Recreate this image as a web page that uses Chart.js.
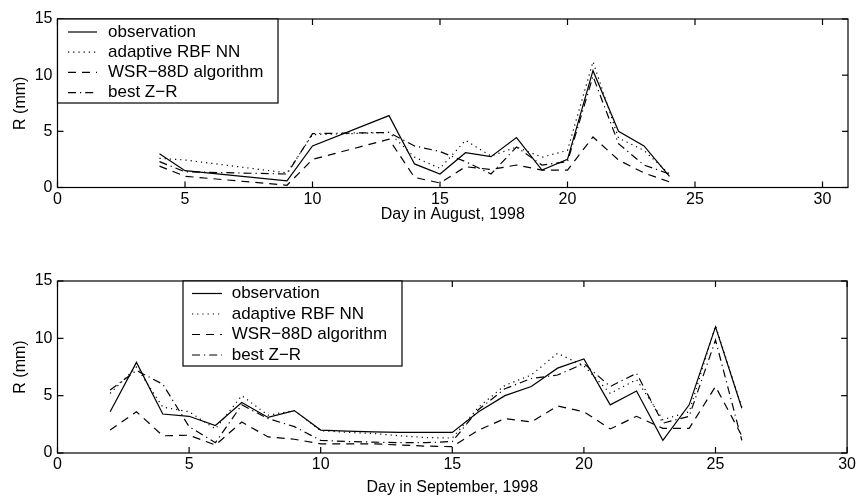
<!DOCTYPE html>
<html>
<head>
<meta charset="utf-8">
<script src="https://cdn.jsdelivr.net/npm/chart.js@4.4.1/dist/chart.umd.min.js"></script>
<style>
  html, body { margin: 0; padding: 0; background: #fff; }
  .panel { position: absolute; left: 0; width: 858px; }
</style>
</head>
<body>
<div class="panel" style="top:0;height:248px"><canvas id="augChart"></canvas></div>
<div class="panel" style="top:248px;height:249px"><canvas id="sepChart"></canvas></div>
<script>
// August 1998 (days with radar estimates)
const augDays = [4, 5, 9, 10, 13, 14, 15, 16, 17, 18, 19, 20, 21, 22, 23, 24];
const augObs  = [3.0, 1.5, 0.6, 3.7, 6.4, 2.1, 1.2, 3.1, 2.75, 4.45, 1.55, 2.5, 10.4, 5.0, 3.7, 1.0];
const augRbf  = [2.6, 2.45, 1.3, 4.7, 4.9, 2.7, 1.7, 4.2, 2.8, 3.6, 2.7, 3.3, 11.2, 4.4, 3.3, 1.2];
const augWsr  = [1.9, 1.0, 0.2, 2.5, 4.3, 0.9, 0.4, 1.85, 1.6, 2.0, 1.55, 1.55, 4.5, 2.45, 1.3, 0.5];
const augZr   = [2.3, 1.4, 1.2, 4.8, 4.9, 3.7, 3.2, 2.3, 1.2, 3.6, 2.0, 2.3, 9.9, 3.9, 2.0, 1.2];

// September 1998
const sepDays = [2, 3, 4, 5, 6, 7, 8, 9, 10, 11, 12, 13, 14, 15, 16, 17, 18, 19, 20, 21, 22, 23, 24, 25, 26];
const sepObs  = [3.6, 7.9, 3.4, 3.2, 2.4, 4.4, 3.1, 3.7, 2.0, 1.9, 1.85, 1.8, 1.8, 1.8, 3.6, 5.0, 5.8, 7.4, 8.2, 4.2, 5.4, 1.1, 4.2, 11.0, 3.9];
const sepRbf  = [5.2, 7.5, 4.0, 3.6, 2.1, 5.0, 3.3, 3.7, 1.95, 1.8, 1.7, 1.5, 1.35, 1.3, 4.0, 5.9, 6.8, 8.7, 7.6, 5.2, 6.4, 2.9, 3.6, 11.1, 4.0];
const sepWsr  = [2.0, 3.6, 1.5, 1.55, 0.7, 2.7, 1.4, 1.2, 0.8, 0.8, 0.8, 0.7, 0.6, 0.55, 2.0, 3.0, 2.7, 4.1, 3.6, 2.1, 3.2, 2.15, 2.15, 5.8, 1.5];
const sepZr   = [5.5, 7.2, 6.0, 2.3, 0.9, 4.2, 3.0, 2.3, 1.1, 1.0, 0.95, 0.9, 0.9, 1.0, 3.8, 5.6, 6.5, 6.8, 7.8, 5.8, 6.95, 2.6, 3.2, 9.85, 1.1];

const seriesNames = ['observation', 'adaptive RBF NN', 'WSR\u221288D algorithm', 'best Z\u2212R'];
const dashes = [[], [1.2, 4], [8, 6], [8, 4, 1.2, 4]];

const FONT = 'Liberation Sans, Arial, Helvetica, sans-serif';

function toPoints(days, vals) {
  return days.map((d, i) => ({ x: d, y: vals[i] }));
}

function makeDatasets(days, lists) {
  return lists.map((vals, i) => ({
    label: seriesNames[i],
    data: toPoints(days, vals),
    borderColor: '#000',
    borderWidth: 1.2,
    borderDash: dashes[i],
    pointRadius: 0,
    tension: 0,
    fill: false
  }));
}

// box frame, inward ticks (matlab look) and the legend box
const matlabFrame = {
  id: 'matlabFrame',
  afterDatasetsDraw(chart, args, opts) {
    const { ctx, chartArea: a, scales } = chart;
    ctx.save();
    ctx.strokeStyle = '#000';
    ctx.lineWidth = 1.2;
    ctx.setLineDash([]);
    const seg = (x1, y1, x2, y2) => { ctx.beginPath(); ctx.moveTo(x1, y1); ctx.lineTo(x2, y2); ctx.stroke(); };
    ctx.strokeRect(a.left, a.top, a.right - a.left, a.bottom - a.top);
    scales.x.ticks.forEach(t => {
      const px = scales.x.getPixelForValue(t.value);
      seg(px, a.bottom, px, a.bottom - 6);
      seg(px, a.top, px, a.top + 6);
    });
    scales.y.ticks.forEach(t => {
      const py = scales.y.getPixelForValue(t.value);
      seg(a.left, py, a.left + 6, py);
      seg(a.right, py, a.right - 6, py);
    });

    // legend
    const L = opts;
    ctx.fillStyle = '#fff';
    ctx.fillRect(L.x, L.y, L.w, L.h);
    ctx.strokeRect(L.x, L.y, L.w, L.h);
    ctx.font = '17px ' + FONT;
    ctx.textBaseline = 'middle';
    ctx.textAlign = 'left';
    chart.data.datasets.forEach((ds, i) => {
      const yy = L.y + L.row0 + i * L.rowGap;
      ctx.setLineDash(ds.borderDash);
      ctx.lineWidth = 1.2;
      seg(L.x + L.s0, yy, L.x + L.s1, yy);
      ctx.setLineDash([]);
      ctx.fillStyle = '#000';
      ctx.fillText(ds.label, L.x + L.tx, yy);
    });
    ctx.restore();
  }
};

function makeChart(id, days, lists, xMax, xTitle, xAxisH, pad, titlePadBottom, legend) {
  return new Chart(document.getElementById(id), {
    type: 'line',
    data: { datasets: makeDatasets(days, lists) },
    options: {
      responsive: true,
      maintainAspectRatio: false,
      animation: false,
      layout: { padding: pad },
      plugins: { legend: { display: false }, tooltip: { enabled: false }, matlabFrame: legend },
      scales: {
        x: {
          type: 'linear', min: 0, max: xMax,
          grid: { display: false, drawTicks: false },
          border: { display: false },
          ticks: { stepSize: 5, includeBounds: false, padding: 2, color: '#000', font: { family: FONT, size: 16 }, maxRotation: 0 },
          title: { display: true, text: xTitle, color: '#000', font: { family: FONT, size: 16 }, padding: { top: 0, bottom: titlePadBottom } },
          afterFit(scale) { scale.height = xAxisH; }
        },
        y: {
          min: 0, max: 15,
          grid: { display: false, drawTicks: false },
          border: { display: false },
          ticks: { stepSize: 5, padding: 5, color: '#000', font: { family: FONT, size: 16 } },
          title: { display: true, text: 'R (mm)', color: '#000', font: { family: FONT, size: 16 }, padding: { top: 11, bottom: 0 } },
          afterFit(scale) { scale.width = 57.5; }
        }
      }
    },
    plugins: [matlabFrame]
  });
}

makeChart('augChart', augDays, [augObs, augRbf, augWsr, augZr], 31, 'Day in August, 1998',
  60.5, { left: 0, right: 10, top: 19, bottom: 0 }, 24,
  { x: 57.5, y: 19, w: 220.5, h: 84, row0: 13, rowGap: 20.2, s0: 10.5, s1: 39.5, tx: 50.5 });

makeChart('sepChart', sepDays, [sepObs, sepRbf, sepWsr, sepZr], 30, 'Day in September, 1998',
  44, { left: 0, right: 9, top: 33, bottom: 0 }, 0,
  { x: 183, y: 33, w: 219, h: 85, row0: 12.5, rowGap: 20.5, s0: 9, s1: 39, tx: 48.7 });
</script>
</body>
</html>
